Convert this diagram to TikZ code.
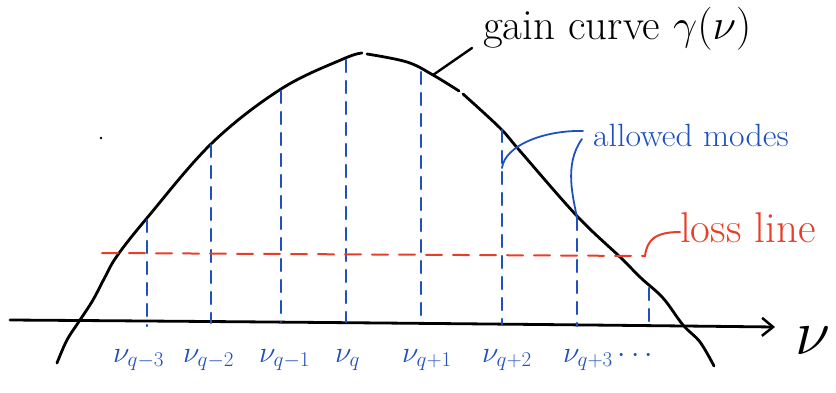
\RequirePackage{fix-cm}
\documentclass[tikz,border=0pt]{standalone}
\usetikzlibrary{arrows.meta}
\definecolor{penblue}{RGB}{30,80,190}
\definecolor{penred}{RGB}{232,62,40}
\begin{document}
\begin{tikzpicture}[x=1pt,y=-1pt,
  ink/.style={line width=2.8pt,line cap=round,line join=round,black},
  mode/.style={line width=2.4pt,penblue,line cap=round,dash pattern=on 12pt off 9pt},
  loss/.style={line width=2pt,penred,line cap=round,dash pattern=on 16pt off 11pt},
  bleader/.style={line width=1.8pt,penblue,line cap=round},
  rleader/.style={line width=2pt,penred,line cap=round},
  lab/.style={penblue,font=\fontsize{30}{30}\selectfont,anchor=base west,inner sep=0pt},
  note/.style={anchor=base west,inner sep=0pt}]
\useasboundingbox (0,0) rectangle (836,392);
% axis
\draw[ink,-{Straight Barb[length=11pt,width=18pt,line width=2.5pt]}] (10,320) .. controls (300,322) and (600,325) .. (775,327) coordinate (axend);
\node[note,font=\fontsize{64}{64}\selectfont] (nu) at (795,354) {$\nu$};
% gain curve
\draw[ink] plot[smooth,tension=0.6] coordinates {(57,363) (67,340) (80,320) (93,300) (104,279) (117,256) (147,218) (212,143) (281,89) (343,59) (362,53)};
\draw[ink] plot[smooth,tension=0.6] coordinates {(367,54) (407,62) (433,75) (459,91)};
\draw[ink] plot[smooth,tension=0.6] coordinates {(463,94) (500,128) (520,151) (577,216) (620,257) (641,278) (663,298) (683,325) (700,342) (714,366)};
\fill (101,138) circle (1.3pt);
% modes
\foreach \n/\x/\yt/\yb in {m3/147/220/326, m2/211/145/323, m1/281/91/322, m0/346/60/322, p1/421/72/323, p2/502/130/324, p3/577/218/326, p4/649/288/326}{
  \coordinate (\n top) at (\x,\yt);
  \coordinate (\n bot) at (\x,\yb);
  \draw[mode] (\n top) -- (\n bot);
}
% loss line
\coordinate (lossL) at (102,253);
\coordinate (lossR) at (645,256);
\draw[loss] (lossL) -- (lossR);
\node[note,penred,font=\fontsize{43}{43}\selectfont] (losstxt) at (680,242) {loss line};
\draw[rleader] (lossR) .. controls (647,240) and (655,232) .. (losstxt.west |- 0,232);
% gain label
\node[note,font=\fontsize{43}{43}\selectfont] (gain) at (483,39) {gain curve $\gamma(\nu)$};
\coordinate (gainptr) at (433,75);
\draw[ink,line width=2.4pt] (gainptr) -- (472,48);
% allowed modes
\node[note,penblue,font=\fontsize{35}{35}\selectfont] (allowed) at (593,146) {\scalebox{0.965}[0.92]{allowed modes}};
\coordinate (al1) at (583,131);
\coordinate (al2) at (582,139);
\draw[bleader] (al1) .. controls (545,130) and (505,145) .. (p2top |- 0,168);
\draw[bleader] (al2) .. controls (563,165) and (574,200) .. (p3top);
% labels
\node[lab] (lm3) at (113,362) {$\nu_{q-3}$};
\node[lab] (lm2) at (183,362) {$\nu_{q-2}$};
\node[lab] (lm1) at (259,362) {$\nu_{q-1}$};
\node[lab] (l0)  at (335,362) {$\nu_{q}$};
\node[lab] (lp1) at (402,362) {$\nu_{q+1}$};
\node[lab] (lp2) at (482,362) {$\nu_{q+2}$};
\node[lab] (lp3) at (563,362) {$\nu_{q+3}\cdots$};
\end{tikzpicture}
\end{document}
